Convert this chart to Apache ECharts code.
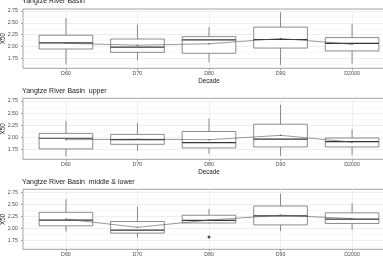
<!DOCTYPE html>
<html>
<head>
<meta charset="UTF-8">
<title>X50 by decade</title>
<script src="https://cdn.jsdelivr.net/npm/echarts@6/dist/echarts.min.js"></script>
</head>
<body style="margin:0;background:#fff;">
<div id="chart" style="width:383px;height:258px;"></div>
<script>
// decades on the x axis (positions 1..5)
var decades = ['D60', 'D70', 'D80', 'D90', 'D2000'];
var decadePos = [1, 2, 3, 4, 5];
var majorY = [1.75, 2.00, 2.25, 2.50, 2.75];
var minorY = [1.625, 1.875, 2.125, 2.375, 2.625];

// box stats per decade: [low whisker, q1, median, q3, high whisker]
var allBox = [[1.63, 1.95, 2.08, 2.24, 2.60], [1.71, 1.88, 1.99, 2.16, 2.46], [1.67, 1.86, 2.14, 2.21, 2.41], [1.62, 1.97, 2.15, 2.41, 2.72], [1.64, 1.91, 2.07, 2.19, 2.47]];
var allMean = [2.07, 2.03, 2.06, 2.17, 2.05];

var upperBox = [[1.61, 1.76, 1.98, 2.08, 2.34], [1.72, 1.855, 1.95, 2.06, 2.30], [1.66, 1.78, 1.89, 2.12, 2.39], [1.62, 1.80, 1.96, 2.27, 2.67], [1.63, 1.80, 1.91, 1.985, 2.165]];
var upperMean = [1.95, 1.96, 1.95, 2.04, 1.90];

var lowerBox = [[1.93, 2.05, 2.17, 2.33, 2.60], [1.81, 1.90, 1.96, 2.14, 2.45], [2.10, 2.11, 2.165, 2.27, 2.40], [1.94, 2.07, 2.255, 2.46, 2.72], [1.965, 2.10, 2.19, 2.32, 2.52]];
var lowerMean = [2.19, 2.02, 2.17, 2.27, 2.20];
var lowerOutX = [3];
var lowerOutY = [1.82];

var titles = ['Yangtze River Basin', 'Yangtze River Basin  upper', 'Yangtze River Basin  middle & lower'];
var boxes = [allBox, upperBox, lowerBox];
var means = [allMean, upperMean, lowerMean];

var font = 'Liberation Sans, Arial, sans-serif';
var panelTop = [9, 98.3, 189.3];
var panelHeight = [59.3, 61, 60];
var yMin = [1.545, 1.545, 1.565];
var yMax = [2.79, 2.806, 2.807];
var titleTop = [-2.5, 88, 179];

var myChart = echarts.init(document.getElementById('chart'));

function renderBox(params, api) {
	var x = api.value(0);
	var lo = api.coord([x, api.value(1)]);
	var q1 = api.coord([x, api.value(2)]);
	var med = api.coord([x, api.value(3)]);
	var q3 = api.coord([x, api.value(4)]);
	var hi = api.coord([x, api.value(5)]);
	var half = api.size([0.375, 0])[0];
	var line = {stroke: '#6e6e6e', lineWidth: 0.8};
	return {
		type: 'group',
		children: [
			{type: 'line', shape: {x1: hi[0], y1: hi[1], x2: q3[0], y2: q3[1]}, style: line},
			{type: 'line', shape: {x1: q1[0], y1: q1[1], x2: lo[0], y2: lo[1]}, style: line},
			{type: 'rect', shape: {x: q3[0] - half, y: q3[1], width: half * 2, height: q1[1] - q3[1]}, style: {fill: '#fff', stroke: '#6e6e6e', lineWidth: 0.8}},
			{type: 'line', shape: {x1: med[0] - half, y1: med[1], x2: med[0] + half, y2: med[1]}, style: {stroke: '#333', lineWidth: 1.2}}
		]
	};
}

var grid = [], xAxis = [], yAxis = [], series = [], title = [];
for (var p = 0; p < 3; p++) {
	title.push({
		text: titles[p], left: 22, top: titleTop[p], padding: 0,
		textStyle: {fontSize: 7, fontWeight: 'normal', color: '#1a1a1a', fontFamily: font}
	});
	grid.push({
		left: 23, right: -12, top: panelTop[p], height: panelHeight[p],
		containLabel: false, outerBoundsMode: 'none',
		show: true, borderColor: '#8a8a8a', borderWidth: 0.8, backgroundColor: '#fff'
	});
	xAxis.push({
		type: 'value', gridIndex: p, min: 0.4, max: 5.6,
		name: 'Decade', nameLocation: 'middle', nameGap: 10, nameMoveOverlap: false,
		nameTextStyle: {fontSize: 6.3, color: '#1a1a1a', fontFamily: font},
		axisLine: {show: false, onZero: false},
		axisTick: {show: true, length: 2, customValues: decadePos, lineStyle: {color: '#555', width: 0.5}},
		axisLabel: {
			customValues: decadePos, margin: 3, fontSize: 5.3, color: '#4d4d4d', fontFamily: font,
			formatter: function (v) { return decades[Math.round(v) - 1]; }
		},
		splitLine: {show: true, lineStyle: {color: '#ebebeb', width: 0.8}}
	});
	yAxis.push({
		type: 'value', gridIndex: p, min: yMin[p], max: yMax[p],
		name: 'X50', nameLocation: 'middle', nameGap: 16.5, nameMoveOverlap: false,
		nameTextStyle: {fontSize: 6.3, color: '#1a1a1a', fontFamily: font},
		axisLine: {show: false},
		axisTick: {show: true, length: 2, customValues: majorY, lineStyle: {color: '#555', width: 0.5}},
		axisLabel: {
			customValues: majorY, margin: 5, fontSize: 5.3, color: '#4d4d4d', fontFamily: font,
			formatter: function (v) { return v.toFixed(2); }
		},
		splitLine: {show: true, lineStyle: {color: '#ebebeb', width: 0.8}}
	});
	yAxis.push({
		type: 'value', gridIndex: p, min: yMin[p], max: yMax[p], position: 'left',
		axisLine: {show: false},
		axisTick: {show: false, customValues: minorY},
		axisLabel: {show: false},
		splitLine: {show: true, lineStyle: {color: '#f4f4f4', width: 0.6}}
	});
	var boxData = [];
	var meanData = [];
	for (var i = 0; i < decades.length; i++) {
		boxData.push([decadePos[i]].concat(boxes[p][i]));
		meanData.push([decadePos[i], means[p][i]]);
	}
	series.push({
		type: 'custom', xAxisIndex: p, yAxisIndex: p * 2,
		renderItem: renderBox, encode: {x: 0, y: [1, 2, 3, 4, 5]},
		data: boxData, silent: true, z: 2
	});
	series.push({
		type: 'line', xAxisIndex: p, yAxisIndex: p * 2,
		data: meanData, symbol: 'circle', symbolSize: 1.5,
		itemStyle: {color: '#555'},
		lineStyle: {color: '#555', width: 0.6},
		silent: true, z: 3
	});
}
var outData = [];
for (var k = 0; k < lowerOutX.length; k++) {
	outData.push([lowerOutX[k], lowerOutY[k]]);
}
series.push({
	type: 'scatter', xAxisIndex: 2, yAxisIndex: 4,
	data: outData, symbolSize: 3, itemStyle: {color: '#222'}, silent: true, z: 4
});

var option = {
	animation: false,
	title: title,
	grid: grid,
	xAxis: xAxis,
	yAxis: yAxis,
	series: series
};
myChart.setOption(option);
</script>
</body>
</html>
